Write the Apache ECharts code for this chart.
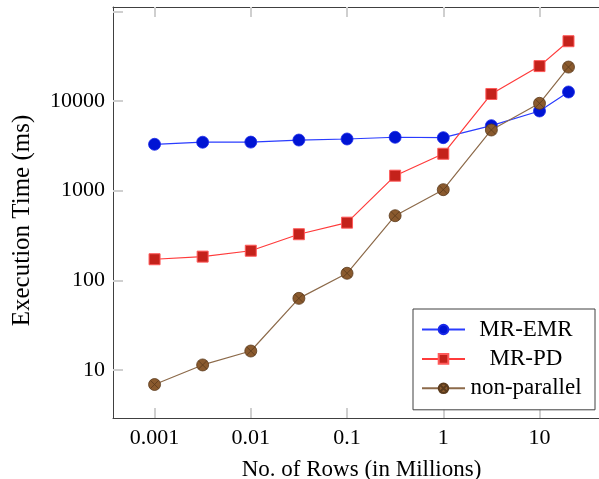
<!DOCTYPE html>
<html>
<head>
<meta charset="utf-8">
<script src="https://cdn.jsdelivr.net/npm/echarts@6/dist/echarts.min.js"></script>
<style>
  html, body { margin: 0; padding: 0; background: #fff; }
  #main { width: 599px; height: 479px; }
</style>
</head>
<body>
<div id="main"></div>
<script>
// rows in millions
var rows = [0.001, 0.00316, 0.01, 0.0316, 0.1, 0.316, 1, 3.16, 10, 20];
var mrEmr = [3290, 3470, 3480, 3670, 3770, 3940, 3900, 5310, 7740, 12600];
var mrPd = [172, 184, 214, 327, 440, 1470, 2580, 11970, 24500, 46400];
var nonParallel = [6.9, 11.4, 16.3, 63, 120, 526, 1026, 4750, 9420, 23900];

var xTicks = [0.001, 0.01, 0.1, 1, 10];
var yTicks = [10, 100, 1000, 10000, 100000];
var yLabels = [10, 100, 1000, 10000];

var font = '"Liberation Serif", "DejaVu Serif", serif';
var frame = '#404040';
var tickGrey = '#cfcfcf';

function pairs(vals) {
    var out = [];
    for (var i = 0; i < rows.length; i++) {
        out.push([rows[i], vals[i]]);
    }
    return out;
}

// circle with an x inside, like pgfplots "otimes*"
var otimes = 'path://M0,10 A10,10 0 1,1 20,10 A10,10 0 1,1 0,10 Z M2.93,2.93 L17.07,17.07 M17.07,2.93 L2.93,17.07';

var myChart = echarts.init(document.getElementById('main'));

var tickStyle = { show: true, inside: true, length: 10, lineStyle: { color: tickGrey, width: 2 } };

var option = {
    animation: false,
    grid: { left: 113, top: 7, width: 497, height: 411, outerBoundsMode: 'none', containLabel: false },
    xAxis: [{
        type: 'log',
        logBase: 10,
        min: 0.00037,
        max: 54,
        position: 'bottom',
        name: 'No. of Rows (in Millions)',
        nameLocation: 'middle',
        nameGap: 40,
        nameTextStyle: { fontFamily: font, fontSize: 23, color: '#000' },
        axisLine: { show: true, lineStyle: { color: frame, width: 1 } },
        axisTick: Object.assign({ customValues: xTicks }, tickStyle),
        axisLabel: {
            customValues: xTicks,
            margin: 9,
            fontFamily: font, fontSize: 22, color: '#000',
            formatter: function(v) { return String(v); }
        },
        splitLine: { show: false },
        minorTick: { show: false }
    }, {
        type: 'log',
        logBase: 10,
        min: 0.00037,
        max: 54,
        position: 'top',
        axisLine: { show: true, lineStyle: { color: frame, width: 1 } },
        axisTick: Object.assign({ customValues: xTicks }, tickStyle),
        axisLabel: { show: false },
        splitLine: { show: false }
    }],
    yAxis: [{
        type: 'log',
        logBase: 10,
        min: 2.92,
        max: 111700,
        position: 'left',
        name: 'Execution Time (ms)',
        nameLocation: 'middle',
        nameGap: 78,
        nameTextStyle: { fontFamily: font, fontSize: 25, color: '#000', padding: [0, 16, 0, 0] },
        axisLine: { show: true, lineStyle: { color: frame, width: 1 } },
        axisTick: Object.assign({ customValues: yTicks }, tickStyle),
        axisLabel: {
            customValues: yLabels,
            margin: 8,
            fontFamily: font, fontSize: 22, color: '#000',
            formatter: function(v) { return String(v); }
        },
        splitLine: { show: false }
    }, {
        type: 'log',
        logBase: 10,
        min: 2.92,
        max: 111700,
        position: 'right',
        axisLine: { show: true, lineStyle: { color: frame, width: 1 } },
        axisTick: Object.assign({ customValues: yTicks }, tickStyle),
        axisLabel: { show: false },
        splitLine: { show: false }
    }],
    legend: {
        orient: 'vertical',
        left: 413,
        top: 309,
        padding: [9, 13, 10, 8],
        itemGap: 6.4,
        itemWidth: 43,
        itemHeight: 12,
        borderColor: frame,
        borderWidth: 1,
        backgroundColor: '#fff',
        data: ['MR-EMR', 'MR-PD', 'non-parallel'],
        formatter: '{n|{name}}',
        textStyle: {
            fontFamily: font, fontSize: 23, color: '#000',
            rich: { n: { width: 112, align: 'center', fontFamily: font, fontSize: 23, lineHeight: 22, color: '#000' } }
        }
    },
    series: [{
        name: 'MR-EMR',
        type: 'line',
        data: pairs(mrEmr),
        symbol: 'circle',
        symbolSize: 12,
        lineStyle: { color: '#2a3cff', width: 1.2 },
        itemStyle: { color: '#0014d4', borderColor: '#1a2ae8', borderWidth: 0.8 },
        z: 3
    }, {
        name: 'MR-PD',
        type: 'line',
        data: pairs(mrPd),
        symbol: 'rect',
        symbolSize: 11,
        lineStyle: { color: '#ff3b3b', width: 1.2 },
        itemStyle: { color: '#c4221b', borderColor: '#ff5a5a', borderWidth: 1 },
        z: 4
    }, {
        name: 'non-parallel',
        type: 'line',
        data: pairs(nonParallel),
        symbol: otimes,
        symbolSize: 12,
        lineStyle: { color: '#8c6a4a', width: 1.2 },
        itemStyle: { color: '#8a5a2e', borderColor: '#5a3a1c', borderWidth: 0.8 },
        z: 5
    }]
};
myChart.setOption(option);
</script>
</body>
</html>
